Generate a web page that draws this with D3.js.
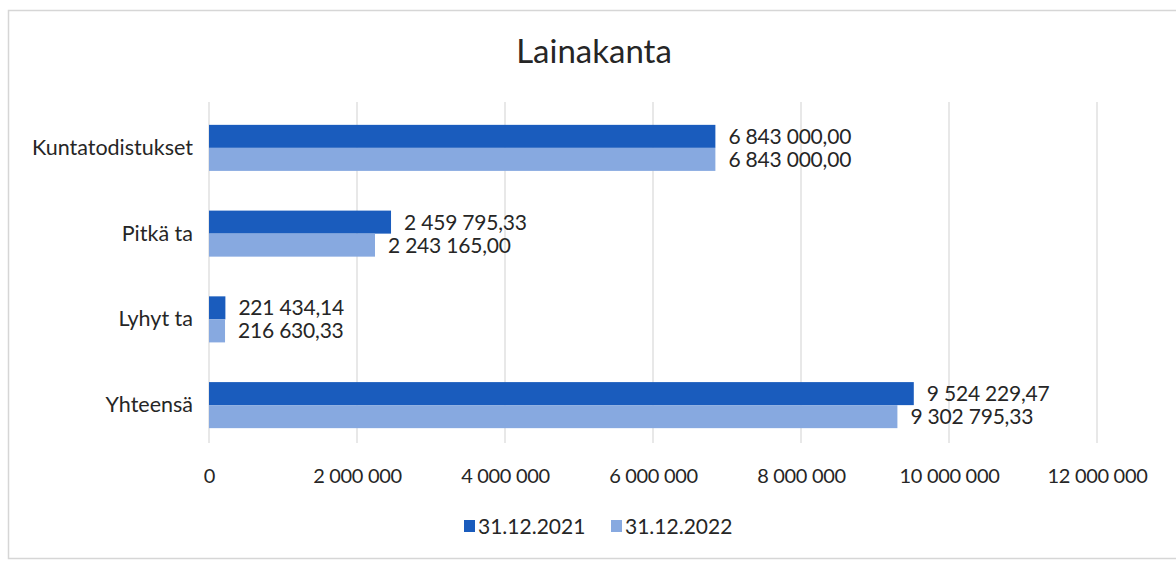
<!DOCTYPE html>
<html>
<head>
<meta charset="utf-8">
<script src="https://cdn.jsdelivr.net/npm/d3@7"></script>
<style>
  html, body { margin: 0; padding: 0; background: #fff; }
  svg { display: block; font-family: Lato, "Open Sans", sans-serif; }
</style>
</head>
<body>
<svg id="chart" width="1176" height="562"></svg>
<script>
// Loan portfolio by type, two year-end dates
const categories = ["Kuntatodistukset", "Pitkä ta", "Lyhyt ta", "Yhteensä"];
const seriesNames = ["31.12.2021", "31.12.2022"];
const values2021 = [6843000.00, 2459795.33, 221434.14, 9524229.47];
const values2022 = [6843000.00, 2243165.00, 216630.33, 9302795.33];
const tickValues = [0, 2000000, 4000000, 6000000, 8000000, 10000000, 12000000];
const seriesColors = ["#1a5cbd", "#87a9e0"];

const fi = d3.formatLocale({ decimal: ",", thousands: "\u00a0", grouping: [3], currency: ["", " €"] });
const fmtValue = fi.format(",.2f");
const fmtTick = fi.format(",.0f");

const svg = d3.select("#chart");
const textColor = "#262626";

// outer chart frame
svg.append("rect")
  .attr("x", 8.5).attr("y", 10.5)
  .attr("width", 1180).attr("height", 548)
  .attr("fill", "none").attr("stroke", "#d6d6d6").attr("stroke-width", 1.5);

// title
svg.append("text")
  .attr("x", 594).attr("y", 63)
  .attr("text-anchor", "middle")
  .attr("font-size", 33)
  .attr("fill", textColor)
  .text("Lainakanta");

const x = d3.scaleLinear().domain([0, 12000000]).range([209, 1097]);
const y = d3.scaleBand().domain(categories).range([105, 448])
  .paddingInner(0.463).paddingOuter(0.2315);
const ySub = d3.scaleBand().domain(seriesNames).range([0, y.bandwidth()]);

const plotTop = 102, plotBottom = 443;

// vertical gridlines
svg.append("g")
  .selectAll("line")
  .data(tickValues)
  .join("line")
  .attr("x1", d => x(d)).attr("x2", d => x(d))
  .attr("y1", plotTop).attr("y2", plotBottom)
  .attr("stroke", "#dcdcdc").attr("stroke-width", 1.3);

// x axis tick labels
const xAxis = d3.axisBottom(x).tickValues(tickValues).tickFormat(fmtTick).tickSize(0).tickPadding(0);
const gx = svg.append("g").attr("transform", `translate(0, ${plotBottom + 26})`).call(xAxis);
gx.select(".domain").remove();
gx.selectAll("text")
  .attr("font-family", "Lato, sans-serif")
  .attr("font-size", 20)
  .attr("fill", textColor)
  .attr("letter-spacing", -0.3);

// category labels
const yAxis = d3.axisLeft(y).tickSize(0).tickPadding(0);
const gy = svg.append("g").attr("transform", "translate(193, 0)").call(yAxis);
gy.select(".domain").remove();
gy.selectAll("text")
  .attr("font-family", "Lato, sans-serif")
  .attr("font-size", 21.5)
  .attr("fill", textColor);

// bars
const rows = categories.map((c, i) => ({
  category: c,
  items: [
    { series: seriesNames[0], value: values2021[i], color: seriesColors[0] },
    { series: seriesNames[1], value: values2022[i], color: seriesColors[1] }
  ]
}));

const groups = svg.append("g")
  .selectAll("g")
  .data(rows)
  .join("g")
  .attr("transform", d => `translate(0, ${y(d.category)})`);

groups.selectAll("rect")
  .data(d => d.items)
  .join("rect")
  .attr("x", x(0))
  .attr("y", d => ySub(d.series))
  .attr("width", d => x(d.value) - x(0))
  .attr("height", ySub.bandwidth())
  .attr("fill", d => d.color);

groups.selectAll("text")
  .data(d => d.items)
  .join("text")
  .attr("x", d => x(d.value) + 13)
  .attr("y", d => ySub(d.series) + ySub.bandwidth() / 2)
  .attr("dy", "0.36em")
  .attr("font-size", 21)
  .attr("letter-spacing", -0.2)
  .attr("fill", textColor)
  .text(d => fmtValue(d.value));

// legend
const legend = svg.append("g").attr("transform", "translate(0, 526)");
const legendX = [464, 611];
const items = legend.selectAll("g")
  .data(seriesNames)
  .join("g")
  .attr("transform", (d, i) => `translate(${legendX[i]}, 0)`);
items.append("rect")
  .attr("x", 0).attr("y", -6)
  .attr("width", 11).attr("height", 12)
  .attr("fill", (d, i) => seriesColors[i]);
items.append("text")
  .attr("x", 14).attr("y", 0)
  .attr("dy", "0.36em")
  .attr("font-size", 21)
  .attr("fill", textColor)
  .text(d => d);
</script>
</body>
</html>
